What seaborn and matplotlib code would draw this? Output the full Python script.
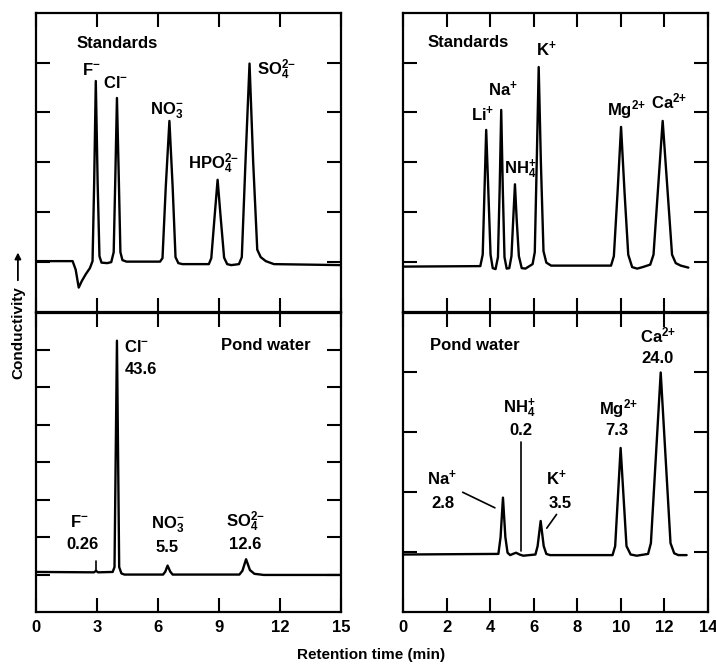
import pandas as pd
import matplotlib.pyplot as plt
import seaborn as sns

# ---- traces (time in min, signal in tick units) ----
anion_std_time = [0.0, 1.80, 1.95, 2.10, 2.25, 2.45, 2.65, 2.78, 2.86, 2.94, 3.03, 3.12, 3.22, 3.50,
                  3.70, 3.82, 3.90, 3.98, 4.07, 4.15, 4.25, 4.45, 6.10, 6.22, 6.38, 6.56, 6.72, 6.86,
                  7.00, 7.20, 8.50, 8.62, 8.78, 8.93, 9.08, 9.25, 9.40, 9.60, 9.98, 10.12, 10.30,
                  10.50, 10.68, 10.88, 11.05, 11.30, 11.70, 15.0]
anion_std_signal = [1.02, 1.02, 0.85, 0.49, 0.62, 0.76, 0.88, 1.02, 2.60, 4.63, 2.60, 1.12, 0.99, 0.98,
                    1.00, 1.20, 2.70, 4.29, 2.70, 1.20, 1.04, 1.01, 1.01, 1.08, 2.50, 3.83, 2.50, 1.10,
                    0.98, 0.96, 0.96, 1.08, 1.90, 2.65, 1.90, 1.09, 0.96, 0.94, 0.96, 1.10, 3.00,
                    4.98, 3.00, 1.25, 1.10, 1.02, 0.96, 0.94]

cation_std_time = [0.0, 3.55, 3.66, 3.74, 3.82, 3.92, 4.02, 4.12, 4.25, 4.36, 4.44, 4.51, 4.58, 4.66,
                   4.76, 4.88, 4.98, 5.06, 5.14, 5.22, 5.32, 5.45, 5.62, 5.95, 6.05, 6.14, 6.23, 6.33,
                   6.45, 6.58, 6.80, 9.55, 9.68, 9.85, 10.01, 10.17, 10.34, 10.52, 10.75, 11.00,
                   11.35, 11.50, 11.92, 12.35, 12.52, 12.75, 13.10]
cation_std_signal = [0.91, 0.92, 1.15, 2.40, 3.65, 2.40, 1.15, 0.88, 0.86, 1.10, 2.50, 4.05, 2.50, 1.10,
                     0.87, 0.88, 1.12, 1.85, 2.56, 1.85, 1.12, 0.88, 0.87, 0.96, 1.20, 3.00, 4.91, 3.00,
                     1.22, 0.99, 0.93, 0.93, 1.12, 2.40, 3.71, 2.40, 1.15, 0.90, 0.87, 0.90,
                     0.95, 1.15, 3.83, 1.15, 0.98, 0.93, 0.89]

anion_pond_time = [0.0, 2.85, 2.95, 3.05, 3.77, 3.86, 3.98, 4.09, 4.20, 4.35, 6.25, 6.36, 6.47, 6.60,
                   6.72, 10.00, 10.15, 10.33, 10.52, 10.74, 11.20, 15.0]
anion_pond_signal = [1.07, 1.06, 1.10, 1.06, 1.07, 1.20, 7.25, 1.20, 1.03, 1.00, 1.00, 1.08, 1.24, 1.08,
                     1.00, 1.00, 1.10, 1.41, 1.12, 1.02, 0.99, 0.99]

cation_pond_time = [0.0, 4.38, 4.48, 4.59, 4.70, 4.80, 4.92, 5.05, 5.19, 5.35, 5.52, 6.08, 6.18, 6.32,
                    6.46, 6.58, 6.75, 9.62, 9.74, 9.99, 10.26, 10.45, 10.73, 11.25, 11.38, 11.83,
                    12.28, 12.45, 12.64, 13.02]
cation_pond_signal = [0.96, 0.97, 1.25, 1.91, 1.25, 0.99, 0.95, 0.97, 0.99, 0.96, 0.94, 0.96, 1.10, 1.52,
                      1.10, 0.97, 0.95, 0.95, 1.10, 2.74, 1.10, 0.96, 0.94, 0.97, 1.15, 4.00,
                      1.15, 0.98, 0.95, 0.95]

# ---- peak labels ----
anion_std_labels = ["Standards", r"F$^{{-}}$", r"Cl$^{{-}}$", r"NO$_3^{{-}}$", r"HPO$_4^{2{-}}$",
                    r"SO$_4^{2{-}}$"]
anion_std_lx = [2.0, 2.70, 3.91, 6.45, 8.75, 10.88]
anion_std_ly = [5.38, 4.86, 4.60, 4.03, 2.98, 4.86]
anion_std_ha = ["left", "center", "center", "center", "center", "left"]

cation_std_labels = ["Standards", r"K$^{{+}}$", r"Na$^{{+}}$", r"Li$^{{+}}$", r"NH$_4^{{+}}$",
                     r"Mg$^{2{+}}$", r"Ca$^{2{+}}$"]
cation_std_lx = [1.15, 6.60, 4.59, 3.67, 5.37, 10.24, 12.21]
cation_std_ly = [5.40, 5.26, 4.47, 3.96, 2.86, 4.06, 4.23]
cation_std_ha = ["left", "center", "center", "center", "center", "center", "center"]

anion_pond_labels = ["Pond water", r"Cl$^{{-}}$", "43.6", r"F$^{{-}}$", "0.26", r"NO$_3^{{-}}$", "5.5",
                     r"SO$_4^{2{-}}$", "12.6"]
anion_pond_lx = [11.31, 4.34, 4.34, 2.13, 2.30, 6.50, 6.45, 10.30, 10.30]
anion_pond_ly = [7.12, 7.07, 6.48, 2.41, 1.81, 2.32, 1.71, 2.42, 1.81]
anion_pond_ha = ["center", "left", "left", "center", "center", "center", "center", "center", "center"]

cation_pond_labels = ["Pond water", r"Ca$^{2{+}}$", "24.0", r"NH$_4^{{+}}$", "0.2", r"Mg$^{2{+}}$", "7.3",
                      r"Na$^{{+}}$", "2.8", r"K$^{{+}}$", "3.5"]
cation_pond_lx = [1.24, 11.72, 11.68, 5.32, 5.41, 9.88, 9.82, 1.78, 1.85, 7.02, 7.20]
cation_pond_ly = [4.45, 4.62, 4.23, 3.40, 3.03, 3.40, 3.03, 2.23, 1.82, 2.23, 1.82]
cation_pond_ha = ["left"] + ["center"] * 10

# leader lines pointing at small peaks (x0, x1, y0, y1)
anion_pond_leaders = [(2.95, 2.95, 1.36, 1.13)]
cation_pond_leaders = [(5.42, 5.42, 2.84, 1.02), (2.74, 4.22, 2.00, 1.74), (7.05, 6.60, 1.63, 1.40)]

sns.set_theme(style="ticks")
plt.rcParams["font.family"] = ["Liberation Sans", "DejaVu Sans"]
plt.rcParams["font.weight"] = "bold"
plt.rcParams["mathtext.default"] = "regular"
for key in ["text.color", "axes.labelcolor", "xtick.color", "ytick.color", "axes.edgecolor"]:
    plt.rcParams[key] = "black"

fig = plt.figure(figsize=(7.16, 6.66), dpi=100)

left_x, right_x, width = 0.0503, 0.5628, 0.426
top_y, bot_y, height = 0.5315, 0.0811, 0.4495

panels = [
    # rect, time, signal, xmax, xstep, ymax, labels, lx, ly, ha, leaders, bottom
    ([left_x, top_y, width, height], anion_std_time, anion_std_signal, 15, 3, 6,
     anion_std_labels, anion_std_lx, anion_std_ly, anion_std_ha, [], False),
    ([right_x, top_y, width, height], cation_std_time, cation_std_signal, 14, 2, 6,
     cation_std_labels, cation_std_lx, cation_std_ly, cation_std_ha, [], False),
    ([left_x, bot_y, width, height], anion_pond_time, anion_pond_signal, 15, 3, 8,
     anion_pond_labels, anion_pond_lx, anion_pond_ly, anion_pond_ha, anion_pond_leaders, True),
    ([right_x, bot_y, width, height], cation_pond_time, cation_pond_signal, 14, 2, 5,
     cation_pond_labels, cation_pond_lx, cation_pond_ly, cation_pond_ha, cation_pond_leaders, True),
]

for rect, t, s, xmax, xstep, ymax, labels, lx, ly, ha, leaders, bottom in panels:
    ax = fig.add_axes(rect)
    df = pd.DataFrame({"time": t, "signal": s})
    sns.lineplot(data=df, x="time", y="signal", ax=ax, color="black", lw=1.7,
                 estimator=None, sort=False)
    for x0, x1, y0, y1 in leaders:
        ax.plot([x0, x1], [y0, y1], color="black", lw=1.2)
    for txt, x, y, h in zip(labels, lx, ly, ha):
        ax.text(x, y, txt, ha=h, va="center", fontsize=12, fontweight="bold")
    ax.set_xlim(0, xmax)
    ax.set_ylim(0, ymax)
    ax.set_xticks(range(0, xmax + 1, xstep))
    ax.set_yticks(range(1, ymax))
    ax.set_xlabel("")
    ax.set_ylabel("")
    ax.tick_params(direction="in", top=True, right=True, length=10, width=1.5,
                   labelleft=False, labelbottom=bottom, labelsize=12, pad=6)
    for lab in ax.get_xticklabels():
        lab.set_fontweight("bold")
    for sp in ax.spines.values():
        sp.set_linewidth(1.6)

fig.text(0.518, 0.017, "Retention time (min)", ha="center", va="center",
         fontsize=11, fontweight="bold")
fig.text(0.025, 0.50, "Conductivity", ha="center", va="center", rotation=90,
         fontsize=11, fontweight="bold")
fig.patches.append(plt.matplotlib.patches.FancyArrowPatch(
    (0.025, 0.575), (0.025, 0.625), transform=fig.transFigure, arrowstyle="-|>",
    mutation_scale=9, lw=1.3, color="black"))

fig.savefig("out.png", dpi=100)
